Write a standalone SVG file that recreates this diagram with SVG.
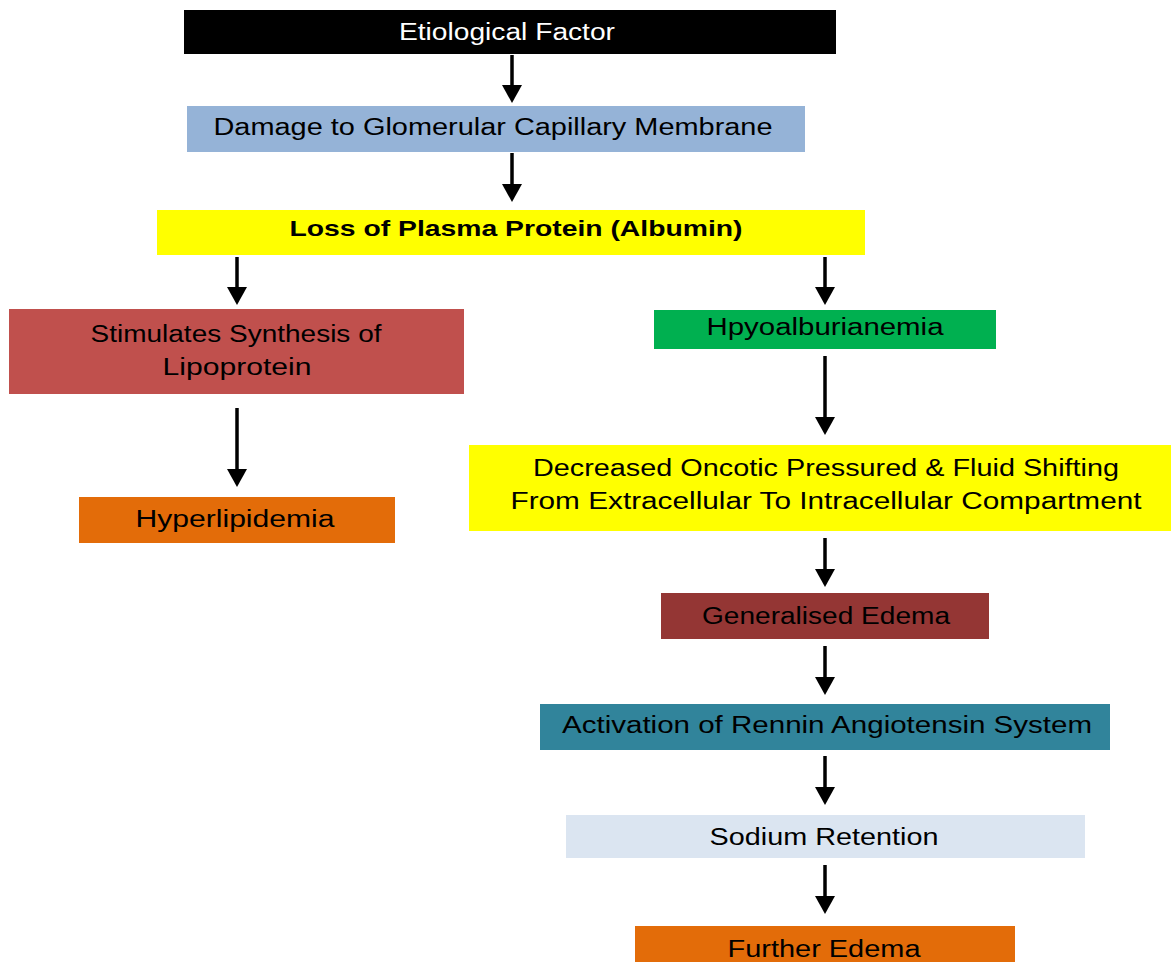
<svg xmlns="http://www.w3.org/2000/svg" width="1171" height="962" viewBox="0 0 1171 962">
<defs>
<marker id="ah" markerUnits="userSpaceOnUse" markerWidth="20" markerHeight="22" refX="2" refY="10" orient="auto">
<path d="M0,0 L18,10 L0,20 Z" fill="#000"/>
</marker>
<style>
text{font-family:"Liberation Sans",Arial,sans-serif;font-size:23px;fill:#000;text-anchor:middle}
.w{fill:#fff}
.b{font-weight:bold;font-size:22px}
.c line{stroke:#000;stroke-width:3.5;marker-end:url(#ah)}
</style>
</defs>
<rect width="1171" height="962" fill="#fff"/>
<g id="n-etiological"><rect x="184" y="10" width="652" height="44" fill="#000"/><text class="w" x="507" y="40" textLength="216" lengthAdjust="spacingAndGlyphs">Etiological Factor</text></g>
<g id="n-damage"><rect x="187" y="106" width="618" height="46" fill="#95B3D7"/><text x="493" y="135" textLength="559" lengthAdjust="spacingAndGlyphs">Damage to Glomerular Capillary Membrane</text></g>
<g id="n-loss"><rect x="157" y="210" width="708" height="45" fill="#FFFF00"/><text class="b" x="516" y="236" textLength="453" lengthAdjust="spacingAndGlyphs">Loss of Plasma Protein (Albumin)</text></g>
<g id="n-stimulates"><rect x="9" y="309" width="455" height="85" fill="#C0504D"/><text x="236" y="342" textLength="291" lengthAdjust="spacingAndGlyphs">Stimulates Synthesis of</text><text x="237" y="375" textLength="149" lengthAdjust="spacingAndGlyphs">Lipoprotein</text></g>
<g id="n-hyperlipidemia"><rect x="79" y="497" width="316" height="46" fill="#E36C09"/><text x="235" y="527" textLength="199" lengthAdjust="spacingAndGlyphs">Hyperlipidemia</text></g>
<g id="n-hpyo"><rect x="654" y="310" width="342" height="39" fill="#00B050"/><text x="825" y="335" textLength="237" lengthAdjust="spacingAndGlyphs">Hpyoalburianemia</text></g>
<g id="n-decreased"><rect x="469" y="445" width="702" height="86" fill="#FFFF00"/><text x="826" y="476" textLength="586" lengthAdjust="spacingAndGlyphs">Decreased Oncotic Pressured &amp; Fluid Shifting</text><text x="826" y="509" textLength="631" lengthAdjust="spacingAndGlyphs">From Extracellular To Intracellular Compartment</text></g>
<g id="n-generalised"><rect x="661" y="593" width="328" height="46" fill="#943634"/><text x="826" y="624" textLength="248" lengthAdjust="spacingAndGlyphs">Generalised Edema</text></g>
<g id="n-activation"><rect x="540" y="704" width="570" height="46" fill="#31849B"/><text x="827" y="733" textLength="530" lengthAdjust="spacingAndGlyphs">Activation of Rennin Angiotensin System</text></g>
<g id="n-sodium"><rect x="566" y="815" width="519" height="43" fill="#DBE5F1"/><text x="824" y="845" textLength="229" lengthAdjust="spacingAndGlyphs">Sodium Retention</text></g>
<g id="n-further"><rect x="635" y="926" width="380" height="36" fill="#E36C09"/><text x="824" y="957" textLength="193" lengthAdjust="spacingAndGlyphs">Further Edema</text></g>
<g class="c" id="connectors">
<line x1="512" y1="55" x2="512" y2="87"/>
<line x1="512" y1="153" x2="512" y2="186"/>
<line x1="237" y1="257" x2="237" y2="289"/>
<line x1="825" y1="257" x2="825" y2="289"/>
<line x1="237" y1="408" x2="237" y2="471"/>
<line x1="825" y1="356" x2="825" y2="419"/>
<line x1="825" y1="538" x2="825" y2="571"/>
<line x1="825" y1="646" x2="825" y2="679"/>
<line x1="825" y1="756" x2="825" y2="789"/>
<line x1="825" y1="865" x2="825" y2="898"/>
</g>
</svg>
